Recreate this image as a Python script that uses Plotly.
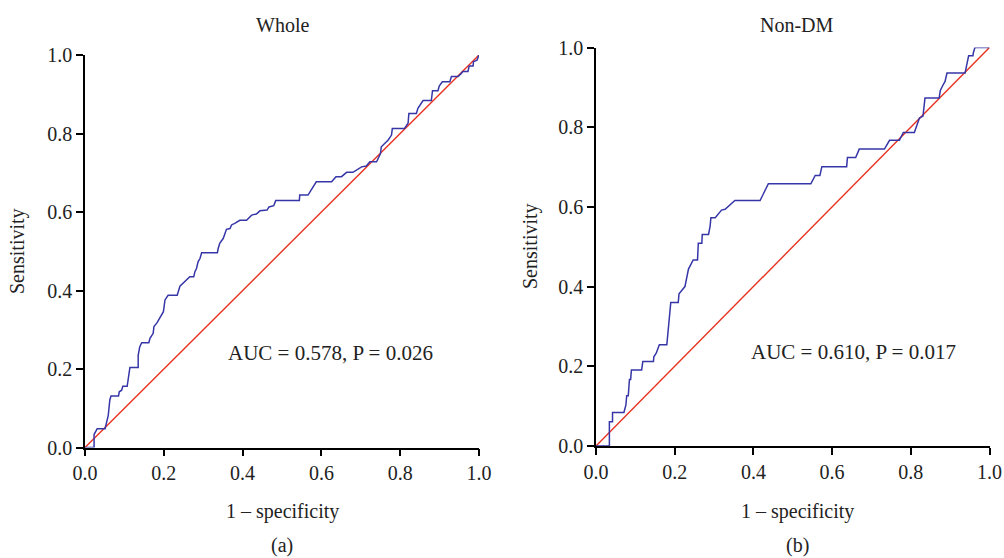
import plotly.graph_objects as go

# ROC curve vertices (1 - specificity, sensitivity)
whole_fpr = [0, 0.023, 0.023, 0.031, 0.051, 0.055, 0.059, 0.063, 0.066, 0.085, 0.087, 0.093, 0.096, 0.107,
             0.110, 0.114, 0.135, 0.135, 0.139, 0.144, 0.162, 0.165, 0.173, 0.175, 0.183, 0.189, 0.194, 0.199,
             0.203, 0.211, 0.234, 0.237, 0.241, 0.266, 0.276, 0.279, 0.283, 0.287, 0.292, 0.296, 0.336, 0.338,
             0.342, 0.351, 0.355, 0.359, 0.368, 0.372, 0.380, 0.393, 0.410, 0.423, 0.435, 0.444, 0.462, 0.467,
             0.479, 0.484, 0.544, 0.545, 0.566, 0.587, 0.626, 0.637, 0.651, 0.664, 0.680, 0.702, 0.714, 0.723,
             0.740, 0.750, 0.752, 0.761, 0.769, 0.778, 0.780, 0.811, 0.820, 0.822, 0.841, 0.845, 0.858, 0.879,
             0.882, 0.896, 0.899, 0.907, 0.926, 0.930, 0.947, 0.955, 0.959, 0.972, 0.975, 0.985, 0.986, 0.995, 1.0]
whole_tpr = [0, 0, 0.033, 0.048, 0.048, 0.070, 0.082, 0.121, 0.131, 0.131, 0.142, 0.146, 0.156, 0.156,
             0.176, 0.204, 0.204, 0.235, 0.257, 0.267, 0.267, 0.278, 0.291, 0.308, 0.318, 0.329, 0.337, 0.346,
             0.376, 0.388, 0.388, 0.399, 0.411, 0.435, 0.435, 0.448, 0.456, 0.473, 0.482, 0.496, 0.496, 0.507,
             0.520, 0.533, 0.545, 0.556, 0.558, 0.567, 0.571, 0.579, 0.579, 0.592, 0.595, 0.603, 0.605, 0.613,
             0.616, 0.629, 0.629, 0.643, 0.643, 0.677, 0.677, 0.690, 0.690, 0.701, 0.701, 0.715, 0.717, 0.728,
             0.728, 0.749, 0.766, 0.775, 0.783, 0.796, 0.813, 0.813, 0.826, 0.851, 0.851, 0.864, 0.884, 0.884,
             0.909, 0.909, 0.921, 0.932, 0.932, 0.945, 0.945, 0.953, 0.958, 0.958, 0.972, 0.972, 0.983, 0.987, 1.0]

nondm_fpr = [0, 0.034, 0.034, 0.042, 0.042, 0.071, 0.076, 0.078, 0.082, 0.085, 0.088, 0.090, 0.116, 0.119,
             0.146, 0.147, 0.153, 0.156, 0.161, 0.180, 0.181, 0.184, 0.186, 0.190, 0.209, 0.211, 0.226, 0.231,
             0.235, 0.247, 0.258, 0.260, 0.269, 0.270, 0.286, 0.290, 0.292, 0.303, 0.319, 0.328, 0.353, 0.417,
             0.438, 0.546, 0.557, 0.569, 0.574, 0.637, 0.639, 0.660, 0.669, 0.733, 0.746, 0.771, 0.781, 0.809,
             0.814, 0.822, 0.831, 0.834, 0.836, 0.872, 0.875, 0.881, 0.887, 0.892, 0.938, 0.942, 0.947, 0.958,
             0.959, 0.963, 1.0]
nondm_tpr = [0, 0, 0.061, 0.061, 0.084, 0.084, 0.103, 0.126, 0.126, 0.167, 0.167, 0.191, 0.191, 0.212,
             0.212, 0.224, 0.233, 0.243, 0.254, 0.254, 0.266, 0.304, 0.329, 0.360, 0.360, 0.382, 0.400, 0.421,
             0.444, 0.467, 0.467, 0.509, 0.509, 0.531, 0.531, 0.552, 0.573, 0.573, 0.592, 0.594, 0.616, 0.616,
             0.658, 0.658, 0.679, 0.679, 0.701, 0.701, 0.724, 0.724, 0.745, 0.745, 0.767, 0.767, 0.787, 0.787,
             0.802, 0.823, 0.828, 0.852, 0.873, 0.873, 0.892, 0.904, 0.915, 0.936, 0.936, 0.956, 0.979, 0.979,
             0.987, 1.0, 1.0]

ref_line = [0, 1]
tick_vals = [0, 0.2, 0.4, 0.6, 0.8, 1.0]
tick_text = ["0.0", "0.2", "0.4", "0.6", "0.8", "1.0"]
panel_titles = ["Whole", "Non-DM"]
auc_labels = ["AUC = 0.578, P = 0.026", "AUC = 0.610, P = 0.017"]
panel_tags = ["(a)", "(b)"]

W, H = 1004, 558
FONT = "Liberation Serif"
BLUE = "#3636a8"
RED = "#e8321f"

fig = go.Figure()
fig.add_trace(go.Scatter(x=ref_line, y=ref_line, mode="lines", line=dict(color=RED, width=1.4),
                         xaxis="x", yaxis="y", showlegend=False, hoverinfo="skip"))
fig.add_trace(go.Scatter(x=whole_fpr, y=whole_tpr, mode="lines", line=dict(color=BLUE, width=1.5),
                         xaxis="x", yaxis="y", showlegend=False))
fig.add_trace(go.Scatter(x=ref_line, y=ref_line, mode="lines", line=dict(color=RED, width=1.4),
                         xaxis="x2", yaxis="y2", showlegend=False, hoverinfo="skip"))
fig.add_trace(go.Scatter(x=nondm_fpr, y=nondm_tpr, mode="lines", line=dict(color=BLUE, width=1.5),
                         xaxis="x2", yaxis="y2", showlegend=False))

def px(x):
    return x / W

def py(y):
    return 1 - y / H

axis_common = dict(range=[0, 1], showgrid=False, zeroline=False, showline=True, linecolor="black",
                   linewidth=1.5, ticks="outside", ticklen=7, tickwidth=1.5, tickcolor="black",
                   tickvals=tick_vals, ticktext=tick_text, automargin=False,
                   tickfont=dict(family=FONT, size=20, color="#222"))

fig.update_layout(
    width=W, height=H, margin=dict(l=0, r=0, t=0, b=0, autoexpand=False),
    paper_bgcolor="white", plot_bgcolor="white",
    xaxis=dict(domain=[px(85), px(479)], anchor="y", **axis_common),
    yaxis=dict(domain=[py(447.5), py(55)], anchor="x", **axis_common),
    xaxis2=dict(domain=[px(596), px(989.5)], anchor="y2", **axis_common),
    yaxis2=dict(domain=[py(446), py(47.5)], anchor="x2", **axis_common),
)

txt = dict(family=FONT, size=20, color="#222")
ann = []
centers = [(282, 251, 18), (797, 246, 530)]
for i in range(2):
    cx, cy, sx = centers[i]
    ann.append(dict(text=panel_titles[i], x=px(cx), y=py(25), xref="paper", yref="paper",
                    showarrow=False, font=txt, xanchor="center", yanchor="middle"))
    ann.append(dict(text="1 – specificity", x=px(cx), y=py(511), xref="paper", yref="paper",
                    showarrow=False, font=txt, xanchor="center", yanchor="middle"))
    ann.append(dict(text=panel_tags[i], x=px(cx), y=py(545), xref="paper", yref="paper",
                    showarrow=False, font=txt, xanchor="center", yanchor="middle"))
    ann.append(dict(text="Sensitivity", x=px(sx), y=py(cy), xref="paper", yref="paper",
                    showarrow=False, font=txt, xanchor="center", yanchor="middle", textangle=-90))
auc_pos = [(330, 353), (853, 352)]
for i in range(2):
    ann.append(dict(text=auc_labels[i], x=px(auc_pos[i][0]), y=py(auc_pos[i][1]), xref="paper", yref="paper",
                    showarrow=False, font=dict(family=FONT, size=21, color="#222"),
                    xanchor="center", yanchor="middle"))
fig.update_layout(annotations=ann)

fig.write_html("out.html", config={"displayModeBar": False},
               post_script="document.body.style.margin='0';document.body.style.overflow='hidden';")
